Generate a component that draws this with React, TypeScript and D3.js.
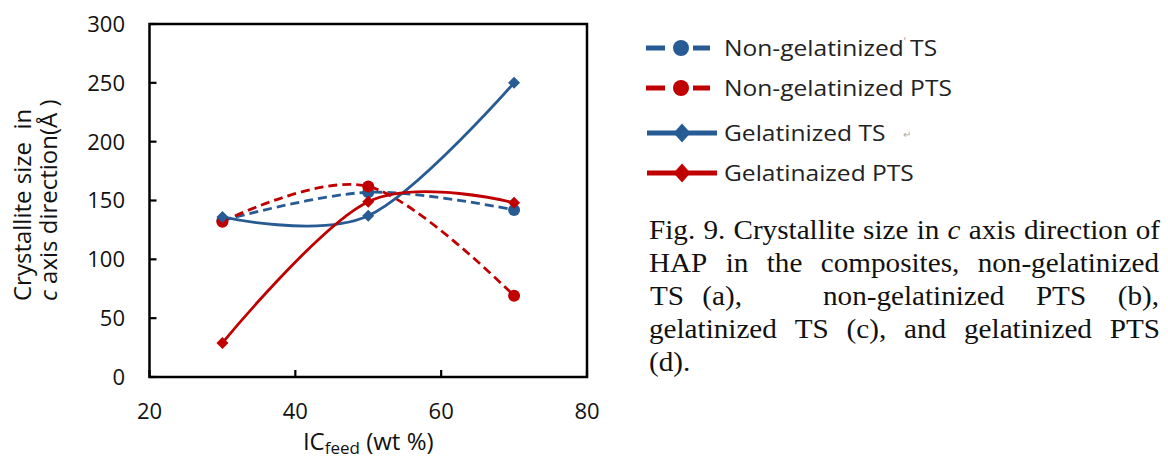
import React, { useLayoutEffect, useRef } from "react";
import * as d3 from "d3";

// IC feed content (wt %) at which each composite was prepared
const icFeed = [30, 50, 70];

// Crystallite size in c axis direction (Å) for each composite series
const nonGelTS = [133, 157, 142];
const nonGelPTS = [132, 162, 69];
const gelTS = [136, 137, 250];
const gelPTS = [29, 149, 148];

const seriesNames = [
  "Non-gelatinized TS",
  "Non-gelatinized PTS",
  "Gelatinized TS",
  "Gelatinaized PTS",
];

const xTicks = [20, 40, 60, 80];
const yTicks = [0, 50, 100, 150, 200, 250, 300];

const BLUE = "#275b93";
const RED = "#c00000";
const SANS = "'Open Sans', 'Noto Sans', sans-serif";
const SERIF = "'Liberation Serif', 'Times New Roman', serif";

// horizontal stretch applied to the caption and legend text
const CAP_SX = 1.08;
const LEG_SX = 1.17;

type Series = {
  name: string;
  values: number[];
  color: string;
  dashed: boolean;
  marker: "circle" | "diamond";
};

const series: Series[] = [
  { name: seriesNames[0], values: nonGelTS, color: BLUE, dashed: true, marker: "circle" },
  { name: seriesNames[1], values: nonGelPTS, color: RED, dashed: true, marker: "circle" },
  { name: seriesNames[2], values: gelTS, color: BLUE, dashed: false, marker: "diamond" },
  { name: seriesNames[3], values: gelPTS, color: RED, dashed: false, marker: "diamond" },
];

type Word = { t: string; italic?: boolean };
type CaptionPiece = { words: Word[]; x0: number; x1?: number; line: number };

const w = (s: string): Word[] => s.split(" ").map((t) => ({ t }));

// Figure caption, typeset as justified lines
const captionPieces: CaptionPiece[] = [
  {
    words: [...w("Fig. 9. Crystallite size in"), { t: "c", italic: true }, ...w("axis direction of")],
    x0: 649,
    x1: 1160,
    line: 0,
  },
  { words: w("HAP in the composites, non-gelatinized"), x0: 649, x1: 1159, line: 1 },
  { words: w("TS (a),"), x0: 650, x1: 742, line: 2 },
  { words: w("non-gelatinized PTS (b),"), x0: 823, x1: 1159, line: 2 },
  { words: w("gelatinized TS (c), and gelatinized PTS"), x0: 649, x1: 1160, line: 3 },
  { words: w("(d)."), x0: 649, line: 4 },
];

const W = 1168;
const H = 459;

const x = d3.scaleLinear().domain([20, 80]).range([149.5, 587]);
const y = d3.scaleLinear().domain([0, 300]).range([377, 24]);

const diamond = (cx: number, cy: number, h: number, v: number = h) =>
  `M${cx},${cy - v}L${cx + h},${cy}L${cx},${cy + v}L${cx - h},${cy}Z`;

function Marker({ kind, cx, cy, color, r }: { kind: string; cx: number; cy: number; color: string; r: number }) {
  if (kind === "circle") return <circle cx={cx} cy={cy} r={r} fill={color} />;
  return <path d={diamond(cx, cy, r, r)} fill={color} />;
}

export default function App() {
  const capRefs = useRef<(SVGTextElement | null)[]>([]);

  useLayoutEffect(() => {
    const justify = () => {
      capRefs.current.forEach((el, i) => {
        if (!el) return;
        const piece = captionPieces[i];
        const spans = Array.from(el.querySelectorAll("tspan")) as SVGTSpanElement[];
        const widths = spans.map((s) => s.getComputedTextLength());
        const total = d3.sum(widths);
        const x0 = piece.x0 / CAP_SX;
        let gap = 6;
        if (piece.x1 !== undefined && spans.length > 1) {
          gap = (piece.x1 / CAP_SX - x0 - total) / (spans.length - 1);
        }
        let cx = x0;
        spans.forEach((s, k) => {
          s.setAttribute("x", String(cx));
          cx += widths[k] + gap;
        });
      });
    };
    justify();
    if ((document as any).fonts?.ready) (document as any).fonts.ready.then(justify);
  }, []);

  const line = d3
    .line<number>()
    .x((_, i) => x(icFeed[i]))
    .y((d) => y(d))
    .curve(d3.curveCardinal.tension(0));

  const legendRows = [48, 88, 133, 173];
  const capBase = 239;
  const capStep = 33;

  return (
    <svg
      width={W}
      height={H}
      viewBox={`0 0 ${W} ${H}`}
      style={{ position: "absolute", left: 0, top: 0, background: "#fff" }}
    >
      <rect x={0} y={0} width={W} height={H} fill="#fff" />

      {/* plot frame */}
      <rect
        x={x(20)}
        y={y(300)}
        width={x(80) - x(20)}
        height={y(0) - y(300)}
        fill="none"
        stroke="#000"
        strokeWidth={2.5}
      />

      {/* y ticks & labels */}
      {yTicks.map((t) => (
        <g key={"y" + t}>
          <line x1={x(20)} x2={x(20) + 7} y1={y(t)} y2={y(t)} stroke="#000" strokeWidth={2.2} />
          <text
            x={125}
            y={y(t)}
            dy="0.36em"
            textAnchor="end"
            fontFamily={SANS}
            fontSize={22}
            fill="#111"
          >
            {t}
          </text>
        </g>
      ))}

      {/* x ticks & labels */}
      {xTicks.map((t) => (
        <g key={"x" + t}>
          <line x1={x(t)} x2={x(t)} y1={y(0)} y2={y(0) - 7} stroke="#000" strokeWidth={2.2} />
          <text x={x(t)} y={419} textAnchor="middle" fontFamily={SANS} fontSize={22} fill="#111">
            {t}
          </text>
        </g>
      ))}

      {/* axis titles */}
      <text x={(x(20) + x(80)) / 2} y={450} textAnchor="middle" fontFamily={SANS} fontSize={24} fill="#111">
        IC
        <tspan fontSize={17} dy={4}>
          feed
        </tspan>
        <tspan dy={-4}> (wt %)</tspan>
      </text>
      <g transform="translate(31,301) rotate(-90)">
        <text x={0} y={0} fontFamily={SANS} fontSize={24} fill="#111" style={{ whiteSpace: "pre" }}>
          Crystallite size  in
        </text>
      </g>
      <g transform="translate(57,301) rotate(-90)">
        <text x={0} y={0} fontFamily={SANS} fontSize={24} fill="#111" style={{ whiteSpace: "pre" }}>
          <tspan fontStyle="italic">c</tspan> axis direction(Å )
        </text>
      </g>

      {/* series lines */}
      {series.map((s) => (
        <path
          key={"l" + s.name}
          d={line(s.values) || ""}
          fill="none"
          stroke={s.color}
          strokeWidth={2.8}
          strokeDasharray={s.dashed ? "9,5" : undefined}
          strokeLinecap="butt"
        />
      ))}

      {/* series markers */}
      {series.map((s) => (
        <g key={"m" + s.name}>
          {s.values.map((v, i) => (
            <Marker key={i} kind={s.marker} cx={x(icFeed[i])} cy={y(v)} color={s.color} r={6} />
          ))}
        </g>
      ))}

      {/* legend */}
      {series.map((s, i) => {
        const cy = legendRows[i];
        return (
          <g key={"lg" + s.name}>
            {s.dashed ? (
              <>
                <line x1={646} x2={665} y1={cy} y2={cy} stroke={s.color} strokeWidth={5} />
                <line x1={693} x2={710} y1={cy} y2={cy} stroke={s.color} strokeWidth={5} />
                <circle cx={681} cy={cy} r={8} fill={s.color} />
              </>
            ) : (
              <>
                <line x1={647} x2={717} y1={cy} y2={cy} stroke={s.color} strokeWidth={5} />
                <path d={diamond(682, cy, 8.5, 9.5)} fill={s.color} />
              </>
            )}
            <text
              transform={`translate(724,${cy}) scale(${LEG_SX},1)`}
              dy="0.36em"
              fontFamily={SANS}
              fontSize={21}
              fill="#222"
            >
              {s.name}
            </text>
          </g>
        );
      })}
      <text x={904} y={45} fontFamily={SANS} fontSize={10} fill="#999">
        ʼ
      </text>
      <text x={903} y={138} fontFamily={SANS} fontSize={10} fill="#aaa">
        ↵
      </text>

      {/* caption */}
      {captionPieces.map((p, i) => (
        <text
          key={"c" + i}
          ref={(el) => {
            capRefs.current[i] = el;
          }}
          transform={`scale(${CAP_SX},1)`}
          y={capBase + p.line * capStep}
          fontFamily={SERIF}
          fontSize={27}
          fill="#111"
        >
          {p.words.map((wd, k) => (
            <tspan key={k} x={p.x0 / CAP_SX} fontStyle={wd.italic ? "italic" : undefined}>
              {wd.t}
            </tspan>
          ))}
        </text>
      ))}
    </svg>
  );
}
